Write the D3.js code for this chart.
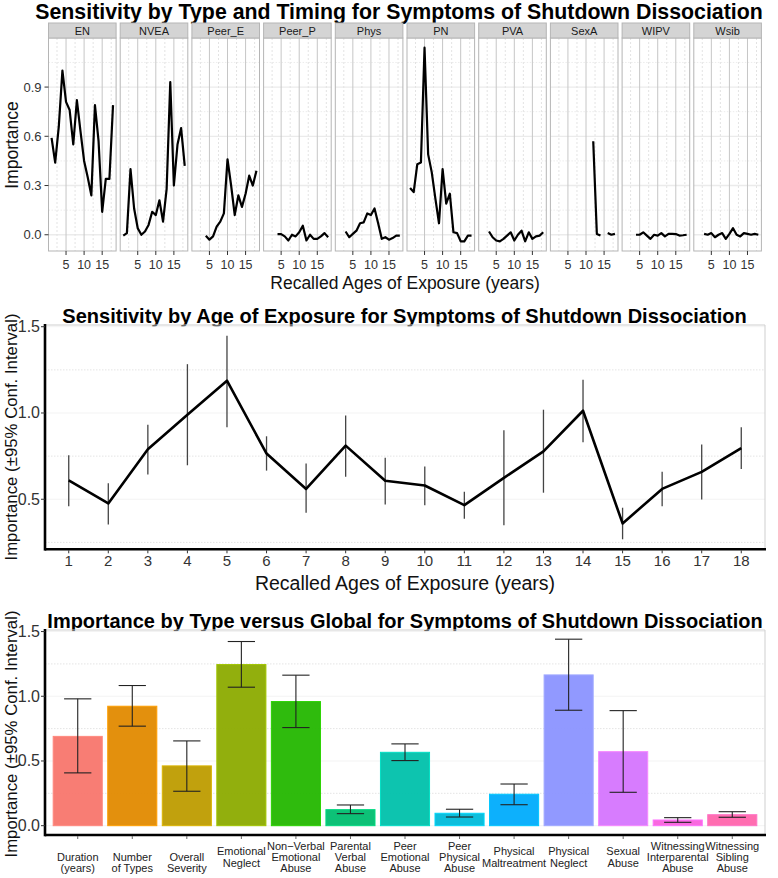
<!DOCTYPE html>
<html>
<head>
<meta charset="utf-8">
<script src="https://cdn.jsdelivr.net/npm/d3@7/dist/d3.min.js"></script>
<style>
  html, body { margin: 0; padding: 0; background: #fff; }
  svg { display: block; }
  text { font-family: "Liberation Sans", Arial, Helvetica, sans-serif; }
</style>
</head>
<body>
<svg id="chart" width="778" height="878"></svg>
<script>
// ---------------- DATA ----------------
const ages = [1,2,3,4,5,6,7,8,9,10,11,12,13,14,15,16,17,18];

// Top panel: sensitivity by type and timing (null = not estimated)
const facetNames = ["EN","NVEA","Peer_E","Peer_P","Phys","PN","PVA","SexA","WIPV","Wsib"];
const EN     = [0.59,0.44,0.66,1.00,0.81,0.76,0.55,0.82,0.63,0.45,0.35,0.24,0.79,0.57,0.14,0.34,0.34,0.79];
const NVEA   = [-0.005,0.01,0.40,0.16,0.04,0.0,0.02,0.06,0.14,0.12,0.21,0.08,0.28,0.93,0.30,0.55,0.65,0.42];
const Peer_E = [null,null,null,-0.006,-0.03,-0.01,0.05,0.08,0.13,0.46,0.30,0.12,0.24,0.17,0.25,0.36,0.30,0.39];
const Peer_P = [null,null,null,0.004,0.004,-0.01,-0.035,0.0,-0.01,0.015,0.055,-0.035,0.0,-0.025,-0.025,-0.01,0.01,-0.015];
const Phys   = [null,null,0.02,-0.015,0.005,0.025,0.07,0.075,0.13,0.12,0.16,0.07,-0.025,-0.015,-0.03,-0.02,-0.005,-0.005];
const PN     = [0.285,0.26,0.43,0.44,1.14,0.49,0.38,0.22,0.07,0.40,0.19,0.25,0.015,0.01,-0.04,-0.04,-0.005,-0.005];
const PVA    = [null,null,0.02,-0.015,-0.035,-0.04,-0.025,-0.005,0.015,-0.035,0.0,0.025,-0.04,0.015,-0.025,-0.01,-0.005,0.015];
const SexA   = [null,null,null,null,null,null,null,null,null,null,null,0.57,0.005,-0.005,null,0.01,0.0,0.005];
const WIPV   = [null,null,null,0.0,0.0,0.015,-0.005,-0.025,0.0,-0.005,0.01,-0.01,0.005,0.005,0.004,-0.005,-0.003,0.0];
const Wsib   = [null,null,0.005,0.0,0.01,-0.015,0.0,0.01,-0.025,0.005,0.04,0.0,-0.01,0.01,0.005,0.0,0.005,0.0];
const facetSeries = [EN,NVEA,Peer_E,Peer_P,Phys,PN,PVA,SexA,WIPV,Wsib];
const topXTicks = [5,10,15];
const topYTicks = [0.0,0.3,0.6,0.9];

// Middle panel: sensitivity by age
const ageMean  = [0.609,0.476,0.79,0.99,1.187,0.765,0.56,0.811,0.607,0.58,0.466,0.624,0.778,1.013,0.36,0.56,0.659,0.797];
const ageLower = [0.46,0.354,0.643,0.697,0.917,0.666,0.422,0.63,0.47,0.466,0.387,0.35,0.538,0.83,0.268,0.46,0.499,0.676];
const ageUpper = [0.755,0.593,0.932,1.283,1.447,0.865,0.707,0.986,0.74,0.69,0.543,0.9,1.019,1.192,0.451,0.659,0.817,0.917];
const midYTicks = [0.5,1.0,1.5];

// Bottom panel: importance by type
const typeLabels = [
  ["", "Duration", "(years)"],
  ["", "Number", "of Types"],
  ["", "Overall", "Severity"],
  ["Emotional", "Neglect"],
  ["Non\u2212Verbal", "Emotional", "Abuse"],
  ["Parental", "Verbal", "Abuse"],
  ["Peer", "Emotional", "Abuse"],
  ["Peer", "Physical", "Abuse"],
  ["Physical", "Maltreatment"],
  ["Physical", "Neglect"],
  ["Sexual", "Abuse"],
  ["Witnessing", "Interparental", "Abuse"],
  ["Witnessing", "Sibling", "Abuse"]
];
const typeValue = [0.69,0.923,0.462,1.245,0.959,0.124,0.567,0.096,0.243,1.165,0.572,0.044,0.085];
const typeLower = [0.408,0.769,0.266,1.07,0.758,0.093,0.503,0.067,0.162,0.892,0.258,0.026,0.065];
const typeUpper = [0.98,1.083,0.655,1.423,1.163,0.16,0.632,0.127,0.322,1.441,0.889,0.062,0.108];
const typeColors = ["#F8766D","#E18A00","#BE9C00","#8CAB00","#24B700","#00BE70","#00C1AB","#00BBDA","#00ACFC","#8B93FF","#D575FE","#F962DD","#FF65AC"];
const botYTicks = [0.0,0.5,1.0,1.5];

// ---------------- DRAW ----------------
const svg = d3.select("#chart");
const fmt1 = d3.format(".1f");
const tickCol = "#333";

function fitText(sel, target) {
  const w = sel.node().getComputedTextLength();
  const fs = parseFloat(sel.attr("font-size"));
  sel.attr("font-size", fs * target / w);
}

// ===== TOP =====
{
  const title = svg.append("text").attr("x", 399).attr("y", 18.5)
    .attr("text-anchor", "middle")
    .attr("font-weight", "bold").attr("font-size", 20)
    .text("Sensitivity by Type and Timing for Symptoms of Shutdown Dissociation");
  fitText(title, 728);

  const left0 = 48.5, pw = 67.6, gap = 4.1;
  const stripTop = 23, stripH = 15, pTop = 38, pBot = 251;
  const y = d3.scaleLinear().domain([-0.099, 1.199]).range([pBot, pTop]);

  facetNames.forEach((name, i) => {
    const x0 = left0 + i * (pw + gap);
    const x = d3.scaleLinear().domain([0.15, 18.85]).range([x0, x0 + pw]);
    const g = svg.append("g");
    // grid
    [0.15,0.45,0.75,1.05].forEach(v => g.append("line").attr("x1", x0).attr("x2", x0+pw)
      .attr("y1", y(v)).attr("y2", y(v)).attr("stroke", "#ececec").attr("stroke-dasharray", "1.5,1.5"));
    topYTicks.forEach(v => g.append("line").attr("x1", x0).attr("x2", x0+pw)
      .attr("y1", y(v)).attr("y2", y(v)).attr("stroke", "#ebebeb").attr("stroke-width", 1.3));
    [2.5,7.5,12.5,17.5].forEach(v => g.append("line").attr("x1", x(v)).attr("x2", x(v))
      .attr("y1", pTop).attr("y2", pBot).attr("stroke", "#e3e3e3").attr("stroke-dasharray", "2,2"));
    topXTicks.forEach(v => g.append("line").attr("x1", x(v)).attr("x2", x(v))
      .attr("y1", pTop).attr("y2", pBot).attr("stroke", "#c6c6c6").attr("stroke-width", 1));
    // border
    g.append("rect").attr("x", x0).attr("y", pTop).attr("width", pw).attr("height", pBot - pTop)
      .attr("fill", "none").attr("stroke", "#b5b5b5").attr("stroke-width", 1);
    // strip
    g.append("rect").attr("x", x0).attr("y", stripTop).attr("width", pw).attr("height", stripH)
      .attr("fill", "#d4d4d4").attr("stroke", "#b5b5b5").attr("stroke-width", 1);
    g.append("text").attr("x", x0 + pw/2).attr("y", stripTop + stripH/2 + 0.5)
      .attr("text-anchor", "middle").attr("dominant-baseline", "central")
      .attr("font-size", 11).attr("fill", "#1a1a1a").text(name);
    // x ticks
    topXTicks.forEach(v => {
      g.append("line").attr("x1", x(v)).attr("x2", x(v)).attr("y1", pBot).attr("y2", pBot + 4)
        .attr("stroke", tickCol).attr("stroke-width", 1);
      g.append("text").attr("x", x(v)).attr("y", 264.5).attr("text-anchor", "middle")
        .attr("dominant-baseline", "central").attr("font-size", 12.5).attr("fill", tickCol).text(v);
    });
    // line
    const pts = ages.map((a, j) => ({a, v: facetSeries[i][j]}));
    const line = d3.line().defined(d => d.v !== null).x(d => x(d.a)).y(d => y(d.v));
    g.append("path").attr("d", line(pts)).attr("fill", "none").attr("stroke", "#000")
      .attr("stroke-width", 2.2).attr("stroke-linejoin", "round");
  });
  // y axis
  topYTicks.forEach(v => {
    svg.append("line").attr("x1", left0 - 4).attr("x2", left0).attr("y1", y(v)).attr("y2", y(v))
      .attr("stroke", tickCol);
    svg.append("text").attr("x", left0 - 7).attr("y", y(v)).attr("text-anchor", "end")
      .attr("dominant-baseline", "central").attr("font-size", 13).attr("fill", tickCol).text(fmt1(v));
  });
  svg.append("text").attr("transform", "translate(12,145) rotate(-90)")
    .attr("text-anchor", "middle").attr("dominant-baseline", "central")
    .attr("font-size", 17.5).attr("fill", "#111").text("Importance");
  svg.append("text").attr("x", 405).attr("y", 289).attr("text-anchor", "middle")
    .attr("font-size", 17.5).attr("fill", "#111")
    .text("Recalled Ages of Exposure (years)");
}

// ===== MIDDLE =====
{
  const L = 45, R = 765, T = 325, B = 549.3;
  const x = d3.scaleLinear().domain([0.4, 18.6]).range([L, R]);
  const y = d3.scaleLinear().domain([0.21, 1.51]).range([B, T]);
  const title = svg.append("text").attr("x", 404.5).attr("y", 322.5)
    .attr("text-anchor", "middle")
    .attr("font-weight", "bold").attr("font-size", 18)
    .text("Sensitivity by Age of Exposure for Symptoms of Shutdown Dissociation");
  fitText(title, 685);

  [0.25,0.75,1.25].forEach(v => svg.append("line").attr("x1", L).attr("x2", R)
    .attr("y1", y(v)).attr("y2", y(v)).attr("stroke", "#e4e4e4").attr("stroke-dasharray", "1.5,1.5"));
  midYTicks.forEach(v => svg.append("line").attr("x1", L).attr("x2", R)
    .attr("y1", y(v)).attr("y2", y(v)).attr("stroke", "#f3f3f3"));
  svg.append("line").attr("x1", L).attr("x2", R).attr("y1", T).attr("y2", T).attr("stroke", "#cfcfcf");
  svg.append("line").attr("x1", R).attr("x2", R).attr("y1", T).attr("y2", B).attr("stroke", "#cfcfcf");

  // error bars
  svg.append("g").selectAll("line").data(ages).join("line")
    .attr("x1", d => x(d)).attr("x2", d => x(d))
    .attr("y1", (d, i) => y(ageLower[i])).attr("y2", (d, i) => y(ageUpper[i]))
    .attr("stroke", "#444").attr("stroke-width", 1.3);
  const line = d3.line().x((d, i) => x(ages[i])).y(d => y(d));
  svg.append("path").attr("d", line(ageMean)).attr("fill", "none").attr("stroke", "#000")
    .attr("stroke-width", 2.6).attr("stroke-linejoin", "round");

  // axes
  svg.append("line").attr("x1", L).attr("x2", R + 1).attr("y1", B).attr("y2", B)
    .attr("stroke", "#000").attr("stroke-width", 2.6);
  svg.append("line").attr("x1", L).attr("x2", L).attr("y1", T - 1).attr("y2", B + 1.3)
    .attr("stroke", "#000").attr("stroke-width", 2.6);
  ages.forEach(a => {
    svg.append("line").attr("x1", x(a)).attr("x2", x(a)).attr("y1", B + 1).attr("y2", B + 4).attr("stroke", tickCol);
    svg.append("text").attr("x", x(a)).attr("y", 560.5).attr("text-anchor", "middle")
      .attr("dominant-baseline", "central").attr("font-size", 15).attr("fill", tickCol).text(a);
  });
  midYTicks.forEach(v => {
    svg.append("line").attr("x1", L - 4).attr("x2", L).attr("y1", y(v)).attr("y2", y(v)).attr("stroke", tickCol);
    svg.append("text").attr("x", 40).attr("y", y(v)).attr("text-anchor", "end")
      .attr("dominant-baseline", "central").attr("font-size", 16).attr("fill", tickCol).text(fmt1(v));
  });
  svg.append("text").attr("transform", "translate(11,437) rotate(-90)")
    .attr("text-anchor", "middle").attr("dominant-baseline", "central")
    .attr("font-size", 16.8).attr("fill", "#111").text("Importance (\u00b195% Conf. Interval)");
  svg.append("text").attr("x", 405).attr("y", 589.5).attr("text-anchor", "middle")
    .attr("font-size", 19.5).attr("fill", "#111")
    .text("Recalled Ages of Exposure (years)");
}

// ===== BOTTOM =====
{
  const L = 45, R = 765, T = 630, B = 835;
  const cats = typeLabels.map((d, i) => i);
  const x = d3.scalePoint().domain(cats).range([L, R]).padding(0.6);
  const step = x.step();
  const y = d3.scaleLinear().domain([-0.072, 1.512]).range([B, T]);
  const title = svg.append("text").attr("x", 405).attr("y", 627.5)
    .attr("text-anchor", "middle")
    .attr("font-weight", "bold").attr("font-size", 19)
    .text("Importance by Type versus Global for Symptoms of Shutdown Dissociation");
  fitText(title, 716);

  [0.25,0.75,1.25].forEach(v => svg.append("line").attr("x1", L).attr("x2", R)
    .attr("y1", y(v)).attr("y2", y(v)).attr("stroke", "#e4e4e4").attr("stroke-dasharray", "1.5,1.5"));
  botYTicks.forEach(v => svg.append("line").attr("x1", L).attr("x2", R)
    .attr("y1", y(v)).attr("y2", y(v)).attr("stroke", "#f3f3f3"));
  svg.append("line").attr("x1", L).attr("x2", R).attr("y1", T).attr("y2", T).attr("stroke", "#cfcfcf");
  svg.append("line").attr("x1", R).attr("x2", R).attr("y1", T).attr("y2", B).attr("stroke", "#cfcfcf");

  const bw = step * 0.9;
  svg.append("g").selectAll("rect").data(cats).join("rect")
    .attr("x", d => x(d) - bw/2).attr("width", bw)
    .attr("y", d => y(typeValue[d])).attr("height", d => y(0) - y(typeValue[d]))
    .attr("fill", d => typeColors[d]).attr("fill-opacity", 0.95)
    .attr("stroke", d => d3.color(typeColors[d]).brighter(0.4)).attr("stroke-width", 1);

  const cw = step * 0.5;
  const eg = svg.append("g").attr("stroke", "#222").attr("stroke-width", 1.1);
  cats.forEach(d => {
    eg.append("line").attr("x1", x(d)).attr("x2", x(d)).attr("y1", y(typeLower[d])).attr("y2", y(typeUpper[d]));
    eg.append("line").attr("x1", x(d) - cw/2).attr("x2", x(d) + cw/2).attr("y1", y(typeLower[d])).attr("y2", y(typeLower[d]));
    eg.append("line").attr("x1", x(d) - cw/2).attr("x2", x(d) + cw/2).attr("y1", y(typeUpper[d])).attr("y2", y(typeUpper[d]));
  });

  svg.append("line").attr("x1", L).attr("x2", R + 1).attr("y1", B).attr("y2", B)
    .attr("stroke", "#000").attr("stroke-width", 2.6);
  svg.append("line").attr("x1", L).attr("x2", L).attr("y1", T - 1).attr("y2", B + 1.3)
    .attr("stroke", "#000").attr("stroke-width", 2.6);

  cats.forEach(d => {
    svg.append("line").attr("x1", x(d)).attr("x2", x(d)).attr("y1", B + 1).attr("y2", B + 4).attr("stroke", "#666");
    const lines = typeLabels[d];
    const n = lines.length, lh = lines.length === 2 ? 12.4 : 11.4;
    const t = svg.append("text").attr("text-anchor", "middle").attr("font-size", 11).attr("fill", "#222");
    lines.forEach((s, k) => {
      t.append("tspan").attr("x", x(d)).attr("y", 857 + (k - (n - 1)/2) * lh)
        .attr("dominant-baseline", "central").text(s);
    });
  });
  botYTicks.forEach(v => {
    svg.append("line").attr("x1", L - 4).attr("x2", L).attr("y1", y(v)).attr("y2", y(v)).attr("stroke", tickCol);
    svg.append("text").attr("x", 40).attr("y", y(v)).attr("text-anchor", "end")
      .attr("dominant-baseline", "central").attr("font-size", 16).attr("fill", tickCol).text(fmt1(v));
  });
  svg.append("text").attr("transform", "translate(11,734) rotate(-90)")
    .attr("text-anchor", "middle").attr("dominant-baseline", "central")
    .attr("font-size", 16.8).attr("fill", "#111").text("Importance (\u00b195% Conf. Interval)");
}
</script>
</body>
</html>
